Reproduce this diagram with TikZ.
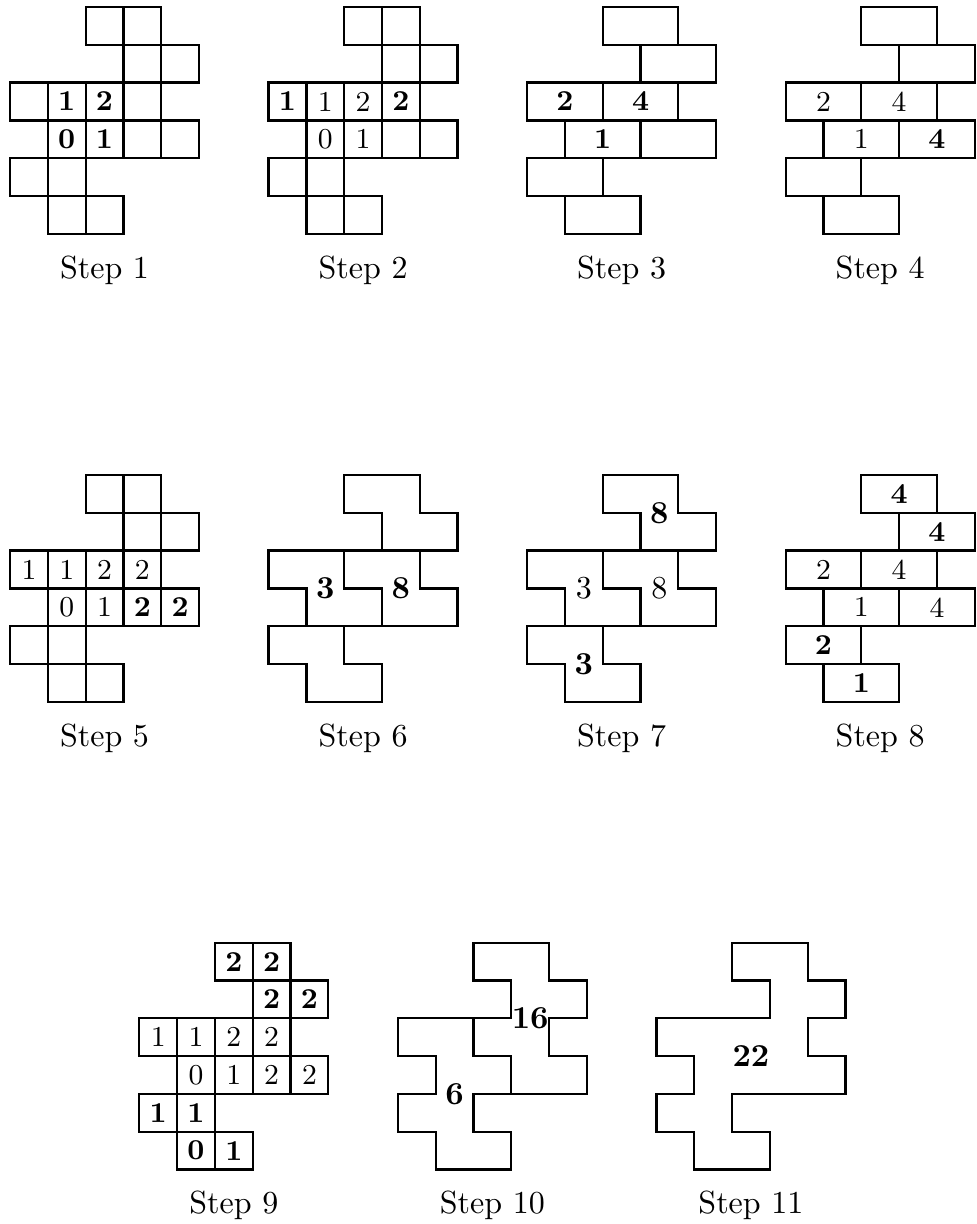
\documentclass[tikz,border=0pt]{standalone}
\usepackage{tikz}
\newcommand{\cellsz}{11.81pt}
% the board: 16 unit cells, or 8 horizontal dominoes
\newcommand{\drawcells}{%
  \foreach \c/\r in {2/0,3/0,3/1,4/1,0/2,1/2,2/2,3/2,1/3,2/3,3/3,4/3,0/4,1/4,1/5,2/5}
    \draw[tile] (\c,\r) rectangle ++(1,1);}
\newcommand{\drawdominoes}{%
  \foreach \c/\r in {2/0,3/1,0/2,2/2,1/3,3/3,0/4,1/5}
    \draw[tile] (\c,\r) rectangle ++(2,1);}
% pairs of dominoes
\newcommand{\drawquads}{%
  \draw[tile] (2,0)--(4,0)--(4,1)--(5,1)--(5,2)--(3,2)--(3,1)--(2,1)--cycle;
  \draw[tile] (0,2)--(2,2)--(2,3)--(3,3)--(3,4)--(1,4)--(1,3)--(0,3)--cycle;
  \draw[tile] (2,2)--(4,2)--(4,3)--(5,3)--(5,4)--(3,4)--(3,3)--(2,3)--cycle;
  \draw[tile] (0,4)--(2,4)--(2,5)--(3,5)--(3,6)--(1,6)--(1,5)--(0,5)--cycle;}

\begin{document}
\begin{tikzpicture}[x=\cellsz,y=-\cellsz,
    tile/.style={line width=0.7pt},
    numb/.style={font=\small},
    numbb/.style={font=\small\bfseries},
    bignumb/.style={font=\bfseries},
    bignumn/.style={font=\normalfont},
    caption/.style={anchor=base}]
  \useasboundingbox (0,0) rectangle (25.82,32.38);
  % ---- first row ----
  \begin{scope}[shift={(0.265,0.185)}]
    \drawcells
    \foreach \c/\r/\t in {1/2/1,2/2/2,1/3/0,2/3/1}
      \node[numbb] (p1-\c\r) at (\c+.5,\r+.5) {\t};
    \node[caption] (cap1) at (2.5,7.17) {Step 1};
  \end{scope}
  \begin{scope}[shift={(7.105,0.185)}]
    \drawcells
    \foreach \c/\r/\t in {1/2/1,2/2/2,1/3/0,2/3/1}
      \node[numb] (p2-\c\r) at (\c+.5,\r+.5) {\t};
    \foreach \c/\r/\t in {0/2/1,3/2/2}
      \node[numbb] (p2-\c\r) at (\c+.5,\r+.5) {\t};
    \node[caption] (cap2) at (2.5,7.17) {Step 2};
  \end{scope}
  \begin{scope}[shift={(13.945,0.185)}]
    \drawdominoes
    \foreach \c/\r/\t in {0/2/2,2/2/4,1/3/1}
      \node[numbb] (p3-\c\r) at (\c+1,\r+.5) {\t};
    \node[caption] (cap3) at (2.5,7.17) {Step 3};
  \end{scope}
  \begin{scope}[shift={(20.785,0.185)}]
    \drawdominoes
    \foreach \c/\r/\t in {0/2/2,2/2/4,1/3/1}
      \node[numb] (p4-\c\r) at (\c+1,\r+.5) {\t};
    \node[numbb] (p4-33) at (4,3.5) {4};
    \node[caption] (cap4) at (2.5,7.17) {Step 4};
  \end{scope}
  % ---- second row ----
  \begin{scope}[shift={(0.265,12.566)}]
    \drawcells
    \foreach \c/\r/\t in {0/2/1,1/2/1,2/2/2,3/2/2,1/3/0,2/3/1}
      \node[numb] (p5-\c\r) at (\c+.5,\r+.5) {\t};
    \foreach \c/\r/\t in {3/3/2,4/3/2}
      \node[numbb] (p5-\c\r) at (\c+.5,\r+.5) {\t};
    \node[caption] (cap5) at (2.5,7.17) {Step 5};
  \end{scope}
  \begin{scope}[shift={(7.105,12.566)}]
    \drawquads
    \node[bignumb] (p6-b) at (1.5,3) {3};
    \node[bignumb] (p6-c) at (3.5,3) {8};
    \node[caption] (cap6) at (2.5,7.17) {Step 6};
  \end{scope}
  \begin{scope}[shift={(13.945,12.566)}]
    \drawquads
    \node[bignumb] (p7-a) at (3.5,1) {8};
    \node[bignumn] (p7-b) at (1.5,3) {3};
    \node[bignumn] (p7-c) at (3.5,3) {8};
    \node[bignumb] (p7-d) at (1.5,5) {3};
    \node[caption] (cap7) at (2.5,7.17) {Step 7};
  \end{scope}
  \begin{scope}[shift={(20.785,12.566)}]
    \drawdominoes
    \foreach \c/\r/\t in {2/0/4,3/1/4,0/4/2,1/5/1}
      \node[numbb] (p8-\c\r) at (\c+1,\r+.5) {\t};
    \foreach \c/\r/\t in {0/2/2,2/2/4,1/3/1,3/3/4}
      \node[numb] (p8-\c\r) at (\c+1,\r+.5) {\t};
    \node[caption] (cap8) at (2.5,7.17) {Step 8};
  \end{scope}
  % ---- third row ----
  \begin{scope}[shift={(3.685,24.94)}]
    \drawcells
    \foreach \c/\r/\t in {2/0/2,3/0/2,3/1/2,4/1/2,0/4/1,1/4/1,1/5/0,2/5/1}
      \node[numbb] (p9-\c\r) at (\c+.5,\r+.5) {\t};
    \foreach \c/\r/\t in {0/2/1,1/2/1,2/2/2,3/2/2,1/3/0,2/3/1,3/3/2,4/3/2}
      \node[numb] (p9-\c\r) at (\c+.5,\r+.5) {\t};
    \node[caption] (cap9) at (2.5,7.17) {Step 9};
  \end{scope}
  \begin{scope}[shift={(10.525,24.94)}]
    \draw[tile] (2,0)--(4,0)--(4,1)--(5,1)--(5,2)--(4,2)--(4,3)--(5,3)--(5,4)--(3,4)
      --(3,3)--(2,3)--(2,2)--(3,2)--(3,1)--(2,1)--cycle;
    \draw[tile] (0,2)--(2,2)--(2,3)--(3,3)--(3,4)--(2,4)--(2,5)--(3,5)--(3,6)--(1,6)
      --(1,5)--(0,5)--(0,4)--(1,4)--(1,3)--(0,3)--cycle;
    \node[bignumb] (p10-ac) at (3.5,2) {16};
    \node[bignumb] (p10-bd) at (1.5,4) {6};
    \node[caption] (cap10) at (2.5,7.17) {Step 10};
  \end{scope}
  \begin{scope}[shift={(17.365,24.94)}]
    \draw[tile] (2,0)--(4,0)--(4,1)--(5,1)--(5,2)--(4,2)--(4,3)--(5,3)--(5,4)--(2,4)
      --(2,5)--(3,5)--(3,6)--(1,6)--(1,5)--(0,5)--(0,4)--(1,4)--(1,3)--(0,3)--(0,2)
      --(3,2)--(3,1)--(2,1)--cycle;
    \node[bignumb] (p11-all) at (2.5,3) {22};
    \node[caption] (cap11) at (2.5,7.17) {Step 11};
  \end{scope}
\end{tikzpicture}
\end{document}
